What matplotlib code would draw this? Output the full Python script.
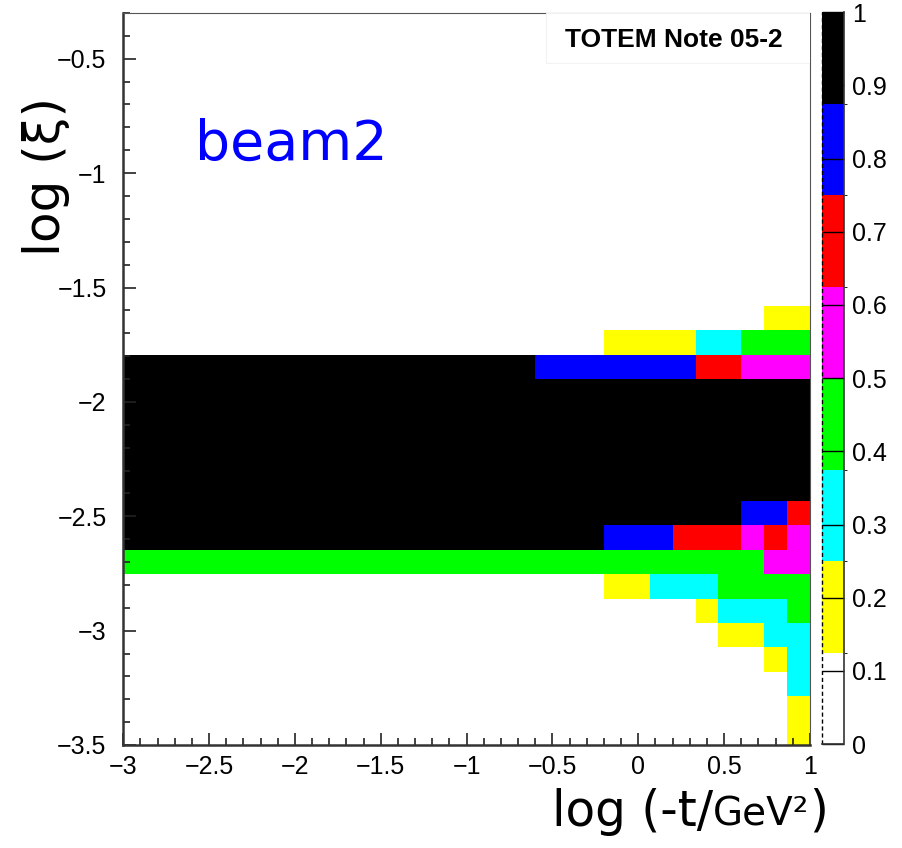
import numpy as np
import matplotlib.pyplot as plt
from matplotlib.colors import ListedColormap, BoundaryNorm
from matplotlib.ticker import MultipleLocator, FuncFormatter
from matplotlib.offsetbox import TextArea, HPacker, AnchoredOffsetbox
from matplotlib.patches import Rectangle

# histogram binning
x_min, x_max, n_xbins = -3.0, 1.0, 30
y_min, y_max, n_ybins = -3.5, -0.3, 30

# palette bands (ROOT style, 8 levels between 0 and 1)
palette_colors = ['#ffffff', '#ffff00', '#00ffff', '#00ff00',
                  '#ff00ff', '#ff0000', '#0000ff', '#000000']

# acceptance class per bin, rows from the bottom (y bin 0 first), one char per x bin
# '.' = empty, 1..7 = palette band (yellow, cyan, green, magenta, red, blue, black)
eff_rows = [
    "." * 29 + "1",
    "." * 29 + "1",
    "." * 29 + "2",
    "." * 28 + "12",
    "." * 26 + "1122",
    "." * 25 + "12223",
    "." * 21 + "112223333",
    "3" * 28 + "44",
    "7" * 21 + "666555454",
    "7" * 27 + "665",
    "7" * 30,
    "7" * 30,
    "7" * 30,
    "7" * 30,
    "7" * 30,
    "7" * 18 + "6666666" + "55" + "444",
    "." * 21 + "1111" + "22" + "333",
    "." * 28 + "11",
]

x_ticks = np.arange(-3.0, 1.01, 0.5)
y_ticks = np.arange(-3.5, -0.49, 0.5)
cbar_ticks = np.arange(0.0, 1.01, 0.1)

z = np.full((n_ybins, n_xbins), np.nan)
for j, row in enumerate(eff_rows):
    for i, c in enumerate(row):
        if c != '.':
            z[j, i] = (int(c) + 0.5) / len(palette_colors)

x_edges = np.linspace(x_min, x_max, n_xbins + 1)
y_edges = np.linspace(y_min, y_max, n_ybins + 1)

W, H = 903, 848
fig = plt.figure(figsize=(W / 100, H / 100), dpi=100)
ax = fig.add_axes([123.3 / W, (H - 745) / H, 686.7 / W, 732 / H])

cmap = ListedColormap(palette_colors)
norm = BoundaryNorm(np.linspace(0, 1, len(palette_colors) + 1), cmap.N)
mesh = ax.pcolormesh(x_edges, y_edges, np.ma.masked_invalid(z), cmap=cmap, norm=norm)
ax.set_xlim(x_min, x_max)
ax.set_ylim(y_min, y_max)

fmt = FuncFormatter(lambda v, _: f'{v:g}'.replace('-', '\u2212'))
ax.set_xticks(x_ticks)
ax.set_yticks(y_ticks)
ax.xaxis.set_minor_locator(MultipleLocator(0.1))
ax.yaxis.set_minor_locator(MultipleLocator(0.1))
ax.xaxis.set_major_formatter(fmt)
ax.yaxis.set_major_formatter(fmt)
ax.tick_params(which='both', direction='in', top=False, right=False, color='#222222')
ax.tick_params(which='major', length=9, width=1.2, labelsize=18)
ax.tick_params(which='minor', length=5, width=1.2)
ax.tick_params(axis='x', pad=7)
ax.tick_params(axis='y', pad=12)
for lab in ax.get_xticklabels() + ax.get_yticklabels():
    lab.set_family('Liberation Sans')

for s in ['left', 'bottom']:
    ax.spines[s].set_linewidth(1.8)
    ax.spines[s].set_color('#333333')
for s in ['top', 'right']:
    ax.spines[s].set_linewidth(0.8)
    ax.spines[s].set_color('#555555')

# note box top right
ax.add_patch(Rectangle((0.6155, 0.9317), 0.3845, 0.0683, transform=ax.transAxes,
                       facecolor='white', edgecolor='#f2f2f2', lw=0.8, zorder=3))
ax.text(0.8022, 0.954, 'TOTEM Note 05-2', transform=ax.transAxes, ha='center',
        va='baseline', fontsize=19, fontweight='bold', family='Liberation Sans', zorder=4)

fig.text(195 / W, 1 - 160 / H, 'beam2', color='#0000ff', fontsize=40,
         family='DejaVu Sans', va='baseline')

# palette on the right
cax = fig.add_axes([822.3 / W, (H - 744.2) / H, 21.7 / W, 732 / H])
cb = fig.colorbar(mesh, cax=cax, ticks=cbar_ticks)
cb.outline.set_visible(False)
cax.yaxis.set_major_formatter(fmt)
cax.tick_params(direction='in', length=15.6, width=1, color='black', labelsize=18, pad=6)
for lab in cax.get_yticklabels():
    lab.set_family('Liberation Sans')
cax.plot([0, 0], [0, 1], transform=cax.transAxes, ls=(0, (3, 2)), color='black',
         lw=1, clip_on=False)
cax.plot([0, 1, 1], [0, 0, 1], transform=cax.transAxes, color='#333333', lw=1.2,
         clip_on=False)

# axis titles
fig.text(46 / W, 1 - 176 / H, 'log (\u03be)', rotation=90, ha='center', va='center',
         fontsize=36, family='DejaVu Sans')

xlab = HPacker(children=[
    TextArea('log (-t/', textprops=dict(size=35, family='DejaVu Sans')),
    TextArea('GeV\u00b2', textprops=dict(size=28, family='DejaVu Sans')),
    TextArea(')', textprops=dict(size=35, family='DejaVu Sans')),
], align='baseline', pad=0, sep=0)
box = AnchoredOffsetbox(loc='lower right', child=xlab, pad=0, borderpad=0, frameon=False,
                        bbox_to_anchor=(828 / W, 1 - 836 / H),
                        bbox_transform=fig.transFigure)
fig.add_artist(box)

fig.savefig('out.png', dpi=100)
